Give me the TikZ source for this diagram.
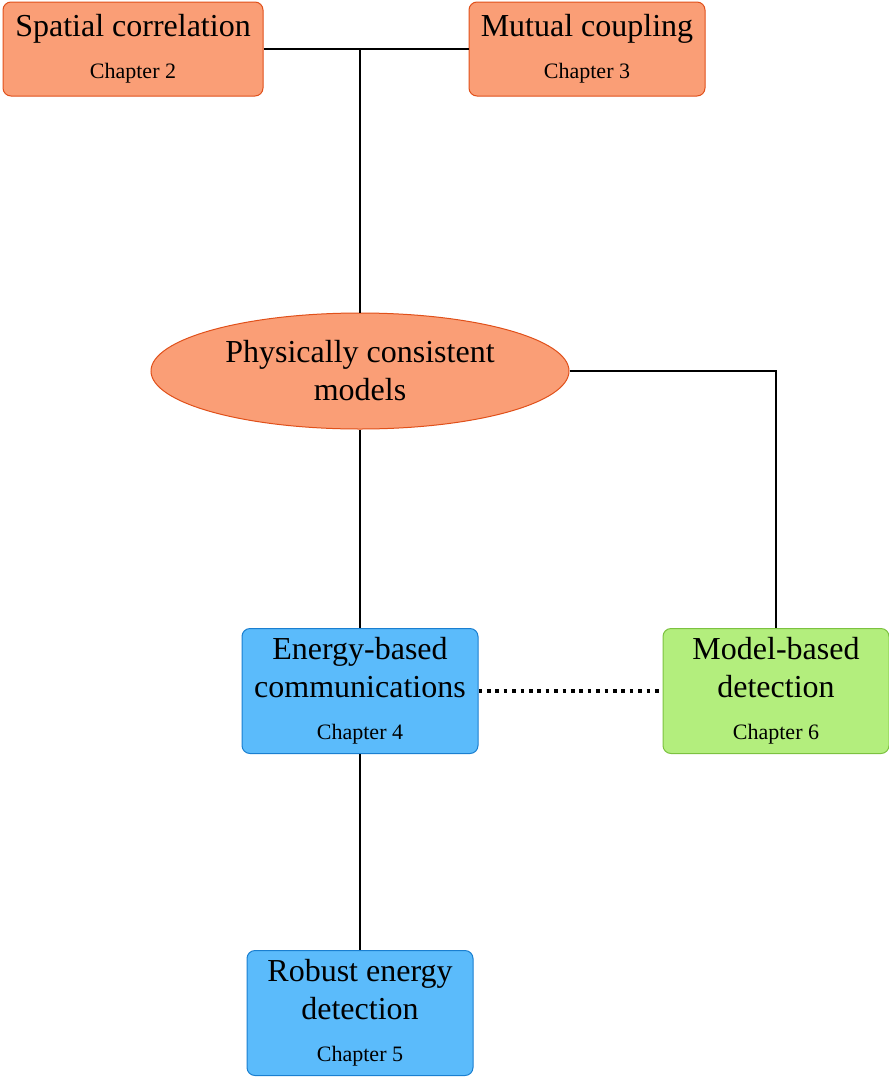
\documentclass[tikz,border=0pt]{standalone}
\usepackage{fontspec}
\setmainfont{Liberation Serif}
\usetikzlibrary{shapes.geometric}

\definecolor{orfill}{HTML}{FA9E76}
\definecolor{ordraw}{HTML}{E0501A}
\definecolor{blfill}{HTML}{5BBBFB}
\definecolor{bldraw}{HTML}{1A7FD0}
\definecolor{grfill}{HTML}{B3EE7D}
\definecolor{grdraw}{HTML}{7CC240}

\newcommand{\chap}[1]{\\[2pt]{\fontsize{11}{13}\selectfont Chapter #1}}

\begin{document}
\begin{tikzpicture}[x=0.5pt,y=-0.5pt,
  box/.style = {draw, rounded corners=4pt, line width=0.5pt, align=center, inner sep=0pt,
                font=\fontsize{16}{19}\selectfont},
  orbox/.style = {box, fill=orfill, draw=ordraw, minimum height=47pt},
  blbox/.style = {box, fill=blfill, draw=bldraw, minimum height=62.5pt},
  grbox/.style = {box, fill=grfill, draw=grdraw, minimum height=62.5pt},
  model/.style = {ellipse, draw=ordraw, fill=orfill, line width=0.5pt, align=center, inner sep=0pt,
                  minimum width=209pt, minimum height=58pt, font=\fontsize{16}{19}\selectfont},
  link/.style = {line width=1.4pt}]
  \useasboundingbox (0,0) rectangle (889,1077);

  \node[orbox, minimum width=130pt](spatial) at (133,49) {Spatial correlation\chap{2}};
  \node[orbox, minimum width=118pt](mutual) at (587,49) {Mutual coupling\chap{3}};
  \node[model](phys) at (360,371) {Physically consistent\\models};
  \node[blbox, minimum width=118pt](energy) at (360,691) {Energy-based\\communications\chap{4}};
  \node[grbox, minimum width=113pt](detect) at (776,691) {Model-based\\detection\chap{6}};
  \node[blbox, minimum width=113pt](robust) at (360,1013) {Robust energy\\detection\chap{5}};
  \coordinate (junc) at (360,49);

  \draw[link] (spatial) -- (mutual); \draw[link] (junc) -- (phys);
  \draw[link] (phys) -- (energy); \draw[link] (phys.east) -| (detect.north);
  \draw[link] (energy) -- (robust);
  \draw[link, line width=1.8pt, dash pattern=on 1.8pt off 2.4pt] (energy) -- (detect);
\end{tikzpicture}
\end{document}
